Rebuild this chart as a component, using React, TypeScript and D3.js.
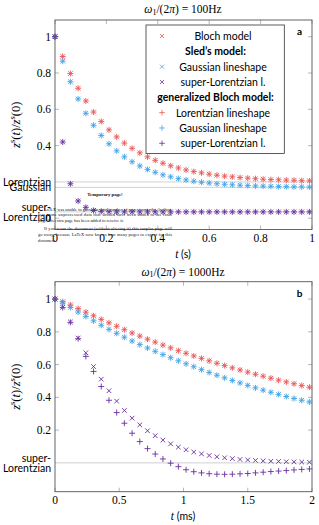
import React from 'react';
import * as d3 from 'd3';

// sampling times
const tTop = [0, 0.03, 0.06, 0.09, 0.12, 0.15, 0.18, 0.21, 0.24, 0.27, 0.3, 0.33, 0.36, 0.39, 0.42, 0.45, 0.48, 0.51,
  0.54, 0.57, 0.6, 0.63, 0.66, 0.69, 0.72, 0.75, 0.78, 0.81, 0.84, 0.87, 0.9, 0.93, 0.96, 0.99];
const tBottom = [0, 0.06, 0.12, 0.18, 0.24, 0.3, 0.36, 0.42, 0.48, 0.54, 0.6, 0.66, 0.72, 0.78, 0.84, 0.9, 0.96, 1.02,
  1.08, 1.14, 1.2, 1.26, 1.32, 1.38, 1.44, 1.5, 1.56, 1.62, 1.68, 1.74, 1.8, 1.86, 1.92, 1.98];

// panel a, omega1/(2pi) = 100 Hz
const topLorentzian = [1.0, 0.891, 0.797, 0.716, 0.646, 0.585, 0.533, 0.487, 0.448, 0.414, 0.385, 0.36, 0.338, 0.319,
  0.303, 0.289, 0.277, 0.266, 0.257, 0.25, 0.243, 0.237, 0.232, 0.228, 0.224, 0.221, 0.218, 0.215, 0.213, 0.212,
  0.21, 0.209, 0.207, 0.206];
const topGaussian = [1.0, 0.865, 0.752, 0.657, 0.578, 0.512, 0.456, 0.41, 0.371, 0.338, 0.311, 0.288, 0.269, 0.253,
  0.239, 0.228, 0.218, 0.211, 0.204, 0.198, 0.194, 0.19, 0.187, 0.184, 0.182, 0.18, 0.178, 0.177, 0.176, 0.175,
  0.174, 0.173, 0.173, 0.172];
const topSuperL = [1.0, 0.42, 0.19, 0.095, 0.06, 0.043, 0.038, 0.036, 0.035, 0.035, 0.035, 0.035, 0.035, 0.035,
  0.035, 0.035, 0.035, 0.035, 0.035, 0.035, 0.035, 0.035, 0.035, 0.035, 0.035, 0.035, 0.035, 0.035, 0.035, 0.035,
  0.035, 0.035, 0.035, 0.035];

// panel b, omega1/(2pi) = 1000 Hz
const botLorentzian = [1.0, 0.984, 0.964, 0.942, 0.92, 0.898, 0.876, 0.855, 0.834, 0.813, 0.793, 0.774, 0.755, 0.737,
  0.719, 0.702, 0.685, 0.669, 0.653, 0.638, 0.623, 0.608, 0.594, 0.58, 0.567, 0.554, 0.541, 0.529, 0.517, 0.505,
  0.494, 0.483, 0.472, 0.462];
const botGaussian = [1.0, 0.976, 0.949, 0.921, 0.894, 0.867, 0.84, 0.815, 0.791, 0.767, 0.744, 0.722, 0.701, 0.681,
  0.661, 0.642, 0.623, 0.605, 0.587, 0.569, 0.552, 0.535, 0.519, 0.503, 0.488, 0.473, 0.458, 0.444, 0.431, 0.418,
  0.405, 0.393, 0.382, 0.372];
const botSledSuperL = [1.0, 0.95, 0.86, 0.762, 0.672, 0.588, 0.511, 0.44, 0.377, 0.32, 0.273, 0.232, 0.196, 0.166,
  0.139, 0.116, 0.096, 0.08, 0.066, 0.055, 0.045, 0.037, 0.031, 0.026, 0.021, 0.018, 0.015, 0.012, 0.01, 0.009,
  0.007, 0.006, 0.005, 0.004];
const botGenSuperL = [1.0, 0.948, 0.858, 0.758, 0.65, 0.558, 0.466, 0.382, 0.307, 0.242, 0.181, 0.13, 0.087, 0.054,
  0.024, -0.002, -0.023, -0.042, -0.054, -0.061, -0.066, -0.069, -0.07, -0.069, -0.067, -0.065, -0.061, -0.057,
  -0.053, -0.05, -0.047, -0.043, -0.04, -0.037];

const topXTicks = [0, 0.2, 0.4, 0.6, 0.8, 1];
const topYTicks = [0, 0.4, 0.6, 0.8, 1];
const botXTicks = [0, 0.5, 1, 1.5, 2];
const botYTicks = [0.2, 0.4, 0.6, 0.8, 1];

const topExtra = [
  { v: 0.2, label: ['Lorentzian'] },
  { v: 0.17, label: ['Gaussian'] },
  { v: 0.035, label: ['super-', 'Lorentzian'] },
];
const botExtra = [{ v: 0.0, label: ['super-', 'Lorentzian'] }];

const legendRows = [
  { kind: 'x', color: 'red', text: 'Bloch model' },
  { kind: 'head', text: 'Sled\u2019s model:' },
  { kind: 'x', color: 'blue', text: 'Gaussian lineshape' },
  { kind: 'x', color: 'purple', text: 'super-Lorentzian l.' },
  { kind: 'head', text: 'generalized Bloch model:' },
  { kind: '+', color: 'red', text: 'Lorentzian lineshape' },
  { kind: '+', color: 'blue', text: 'Gaussian lineshape' },
  { kind: '+', color: 'purple', text: 'super-Lorentzian l.' },
];

const tempLines = [
  'LaTeX was unable to guess the total number of pages correctly. As there',
  'was some unprocessed data that should have been added to the final',
  'page this extra page has been added to receive it.',
  'If you rerun the document (without altering it) this surplus page will',
  'go away, because LaTeX now knows how many pages to expect for this',
  'document.',
];

const COLORS: Record<string, string> = { red: '#ea5656', blue: '#43a2e6', purple: '#6a2fa0' };
const SERIF = '"Liberation Serif", "DejaVu Serif", serif';
const SANS = 'Lato, "Noto Sans", sans-serif';

const crossPath = (x: number, y: number, s = 2.3) =>
  `M${x - s},${y - s}L${x + s},${y + s}M${x - s},${y + s}L${x + s},${y - s}`;
const plusPath = (x: number, y: number, s = 3) =>
  `M${x - s},${y}L${x + s},${y}M${x},${y - s}L${x},${y + s}`;

interface Series { t: number[]; v: number[]; color: string; kind: 'x' | '+' }

interface PanelProps {
  top: number; bottom: number; title: string; titleY: number;
  xMax: number; yDomain: [number, number];
  xTicks: number[]; yTicks: number[]; extra: { v: number; label: string[] }[];
  series: Series[]; xUnit: string; letter: string; legend?: boolean; temp?: boolean;
}

const L = 55, R = 312;

const Panel: React.FC<PanelProps> = (p) => {
  const x = d3.scaleLinear().domain([0, p.xMax]).range([L, R]);
  const y = d3.scaleLinear().domain(p.yDomain).range([p.bottom, p.top]);
  const cy = (p.top + p.bottom) / 2;
  const fmt = (d: number) => String(d);
  return (
    <g>
      <text x={183} y={p.titleY} textAnchor="middle" dominantBaseline="central" fontFamily={SERIF} fontSize={11.5}>
        <tspan fontStyle="italic">ω</tspan><tspan fontSize={8} dy={2.5}>1</tspan>
        <tspan dy={-2.5}>/(2</tspan><tspan fontStyle="italic">π</tspan><tspan>) = {p.title}Hz</tspan>
      </text>
      {/* extra tick lines */}
      {p.extra.map((e, i) => (
        <line key={'el' + i} x1={L} x2={R} y1={y(e.v)} y2={y(e.v)} stroke="#bdbdbd" strokeWidth={0.7} />
      ))}
      {/* ticks */}
      {p.xTicks.map((t) => (
        <g key={'xt' + t}>
          <line x1={x(t)} x2={x(t)} y1={p.bottom} y2={p.bottom - 4} stroke="#9a9a9a" strokeWidth={0.7} />
          <line x1={x(t)} x2={x(t)} y1={p.top} y2={p.top + 4} stroke="#9a9a9a" strokeWidth={0.7} />
          <text x={x(t)} y={p.bottom + 8.5} textAnchor="middle" dominantBaseline="central" fontFamily={SERIF} fontSize={11.5}>{fmt(t)}</text>
        </g>
      ))}
      {p.yTicks.map((t) => (
        <g key={'yt' + t}>
          <line x1={L} x2={L + 4} y1={y(t)} y2={y(t)} stroke="#9a9a9a" strokeWidth={0.7} />
          <line x1={R} x2={R - 4} y1={y(t)} y2={y(t)} stroke="#9a9a9a" strokeWidth={0.7} />
          <text x={51} y={y(t)} textAnchor="end" dominantBaseline="central" fontFamily={SERIF} fontSize={11.5}>{fmt(t)}</text>
        </g>
      ))}
      {p.extra.map((e, i) => (
        <text key={'ex' + i} x={51} y={y(e.v) - (e.label.length - 1) * 5} textAnchor="end" dominantBaseline="central" fontFamily={SANS} fontSize={10.5}>
          {e.label.map((s, j) => (
            <tspan key={j} x={51} dy={j === 0 ? 0 : 10}>{s}</tspan>
          ))}
        </text>
      ))}
      {/* series */}
      {p.series.map((s, si) => (
        <path key={'s' + si} fill="none" stroke={COLORS[s.color]} strokeWidth={0.9}
          d={s.t.map((t, i) => (s.kind === 'x' ? crossPath(x(t), y(s.v[i])) : plusPath(x(t), y(s.v[i])))).join('')} />
      ))}
      <rect x={L} y={p.top} width={R - L} height={p.bottom - p.top} fill="none" stroke="#555" strokeWidth={0.9} />
      <text x={299.5} y={p.top + 11} textAnchor="middle" dominantBaseline="central" fontFamily={SANS} fontWeight="bold" fontSize={10}>{p.letter}</text>
      {/* axis labels */}
      <text x={183} y={p.bottom + 24.5} textAnchor="middle" dominantBaseline="central" fontSize={11.5}>
        <tspan fontFamily={SERIF} fontStyle="italic">t</tspan>
        <tspan fontFamily={SANS} fontSize={10.5}> ({p.xUnit})</tspan>
      </text>
      <text transform={`translate(16,${cy}) rotate(-90)`} textAnchor="middle" dominantBaseline="central" fontFamily={SERIF} fontSize={12.5}>
        <tspan fontStyle="italic">z</tspan><tspan fontSize={8.5} dy={-4.5}>s</tspan>
        <tspan dy={4.5}>(</tspan><tspan fontStyle="italic">t</tspan><tspan>)/</tspan>
        <tspan fontStyle="italic">z</tspan><tspan fontSize={8.5} dy={-4.5}>s</tspan>
        <tspan dy={4.5}>(0)</tspan>
      </text>
      {p.legend && (
        <g>
          <rect x={146} y={25} width={138.3} height={128.5} fill="#fff" stroke="#333" strokeWidth={0.8} />
          {legendRows.map((r, i) => {
            const ry = 36 + i * 15.33;
            if (r.kind === 'head') {
              return <text key={'lg' + i} x={215.5} y={ry} textAnchor="middle" dominantBaseline="central" fontFamily={SANS} fontWeight="bold" fontSize={10.5}>{r.text}</text>;
            }
            return (
              <g key={'lg' + i}>
                <path d={r.kind === 'x' ? crossPath(162, ry, 2) : plusPath(162, ry, 2.8)} stroke={COLORS[r.color!]} strokeWidth={0.8} fill="none" />
                <text x={223} y={ry} textAnchor="middle" dominantBaseline="central" fontFamily={SANS} fontSize={10.5}>{r.text}</text>
              </g>
            );
          })}
        </g>
      )}
      {p.temp && (
        <g fontFamily={SERIF} fontSize={4.4} fill="#111">
          <text x={105} y={194.5} textAnchor="middle" dominantBaseline="central" fontWeight="bold" fontSize={4.8}>Temporary page!</text>
          {tempLines.map((s, i) => {
            const ly = [209, 214.5, 220, 228, 234, 240.5][i];
            const x0 = i === 0 || i === 3 ? 44 : 38;
            const full = i !== 2 && i !== 5;
            return (
              <text key={'tp' + i} x={x0} y={ly} dominantBaseline="central"
                textLength={full ? 172 - x0 : undefined} lengthAdjust="spacing">{s}</text>
            );
          })}
        </g>
      )}
    </g>
  );
};

export default function App() {
  return (
    <svg width={319} height={525} style={{ display: 'block', position: 'absolute', left: 0, top: 0 }}>
      <rect width={319} height={525} fill="#fff" />
      <Panel top={20} bottom={229.5} title="100" titleY={9} xMax={1} yDomain={[-0.062, 1.092]}
        xTicks={topXTicks} yTicks={topYTicks} extra={topExtra} xUnit="s" letter="a" legend temp
        series={[
          { t: tTop, v: topLorentzian, color: 'red', kind: 'x' },
          { t: tTop, v: topGaussian, color: 'blue', kind: 'x' },
          { t: tTop, v: topSuperL, color: 'purple', kind: 'x' },
          { t: tTop, v: topLorentzian, color: 'red', kind: '+' },
          { t: tTop, v: topGaussian, color: 'blue', kind: '+' },
          { t: tTop, v: topSuperL, color: 'purple', kind: '+' },
        ]} />
      <Panel top={281.7} bottom={491.7} title="1000" titleY={271.5} xMax={2} yDomain={[-0.176, 1.106]}
        xTicks={botXTicks} yTicks={botYTicks} extra={botExtra} xUnit="ms" letter="b"
        series={[
          { t: tBottom, v: botLorentzian, color: 'red', kind: 'x' },
          { t: tBottom, v: botGaussian, color: 'blue', kind: 'x' },
          { t: tBottom, v: botSledSuperL, color: 'purple', kind: 'x' },
          { t: tBottom, v: botLorentzian, color: 'red', kind: '+' },
          { t: tBottom, v: botGaussian, color: 'blue', kind: '+' },
          { t: tBottom, v: botGenSuperL, color: 'purple', kind: '+' },
        ]} />
    </svg>
  );
}
